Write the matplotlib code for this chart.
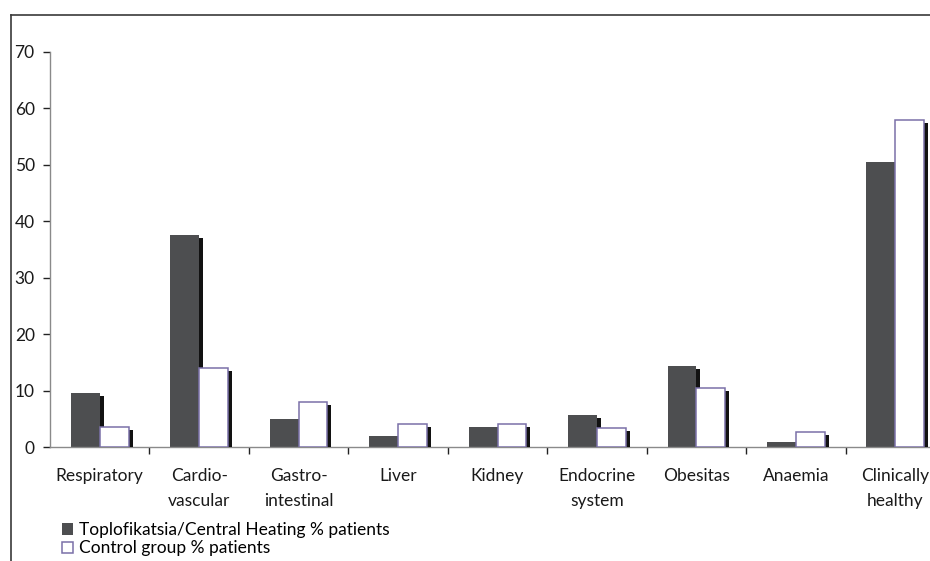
import matplotlib
matplotlib.use('Agg')
import matplotlib.pyplot as plt
import matplotlib.patheffects as pe
from matplotlib.patches import Patch
from matplotlib.lines import Line2D

plt.rcParams['font.family'] = 'Lato'

categories = ['Respiratory', 'Cardio-\nvascular', 'Gastro-\nintestinal', 'Liver', 'Kidney',
              'Endocrine\nsystem', 'Obesitas', 'Anaemia', 'Clinically\nhealthy']
heating = [9.6, 37.6, 5.0, 2.0, 3.5, 5.7, 14.3, 0.9, 50.5]
control = [3.5, 14.0, 7.9, 4.0, 4.0, 3.4, 10.5, 2.7, 57.9]
labels = ['Toplofikatsia/Central Heating % patients', 'Control group % patients']

dark = '#4d4e50'
edge = '#7a70a8'
axis_grey = '#8a8a8a'
fs = 12.5

fig = plt.figure(figsize=(9.3, 5.61), dpi=100)
ax = fig.add_axes([50 / 930, 1 - 447 / 561, 895 / 930, (447 - 51.7) / 561])

# bars cast a small black drop shadow to the lower right
shadow = [pe.SimplePatchShadow(offset=(2.9, -2.2), shadow_rgbFace='#121212', alpha=1.0),
          pe.Normal()]

x = list(range(len(categories)))
w = 0.29
ax.bar([i - w / 2 for i in x], heating, width=w, color=dark, linewidth=0,
       path_effects=shadow, zorder=2)
ax.bar([i + w / 2 for i in x], control, width=w, color='white', edgecolor=edge,
       linewidth=1.1, path_effects=shadow, zorder=3)

ax.set_xlim(-0.5, len(categories) - 0.5)
ax.set_ylim(0, 70)
ax.set_yticks(range(0, 71, 10))

for side in ['top', 'right']:
    ax.spines[side].set_visible(False)
for side in ['left', 'bottom']:
    ax.spines[side].set_color(axis_grey)
    ax.spines[side].set_linewidth(1.0)

ax.tick_params(axis='y', length=5, width=1, color='#222222', pad=6,
               labelsize=fs, labelcolor='#1a1a1a')
ax.set_xticks(x)
ax.set_xticklabels(categories, linespacing=1.7)
ax.tick_params(axis='x', which='major', length=0, pad=15, labelsize=fs,
               labelcolor='#1a1a1a')
ax.set_xticks([i + 0.5 for i in x[:-1]], minor=True)
ax.tick_params(axis='x', which='minor', length=5, width=1, color='#222222')

# outer chart frame (top and left edges)
fig.add_artist(Line2D([11 / 930, 11 / 930], [0, 1 - 15 / 561], color='#3a3a3a', lw=1.2))
fig.add_artist(Line2D([11 / 930, 1], [1 - 15 / 561, 1 - 15 / 561], color='#3a3a3a', lw=1.2))

handles = [Patch(facecolor=dark, edgecolor=dark, linewidth=0),
           Patch(facecolor='white', edgecolor=edge, linewidth=1.1)]
fig.legend(handles, labels, loc='upper left', bbox_to_anchor=(62 / 930, 1 - 522 / 561),
           frameon=False, fontsize=fs, handlelength=0.65, handleheight=0.65,
           handletextpad=0.35, labelspacing=0.14, borderpad=0, borderaxespad=0)

fig.savefig('out.png', dpi=100)
